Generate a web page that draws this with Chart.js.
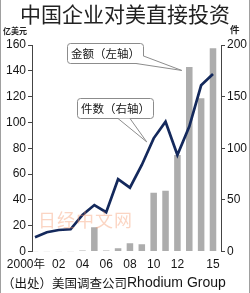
<!DOCTYPE html>
<html>
<head>
<meta charset="utf-8">
<script src="https://cdn.jsdelivr.net/npm/chart.js@4/dist/chart.umd.min.js"></script>
<style>
  html, body { margin: 0; padding: 0; background: #fff; }
  canvas { display: block; }
</style>
</head>
<body>
<canvas id="chart" width="250" height="293"></canvas>
<script>
// data
const years = [2000, 2001, 2002, 2003, 2004, 2005, 2006, 2007, 2008, 2009, 2010, 2011, 2012, 2013, 2014, 2015];
const amountBn = [0.2, 0.2, 0.2, 0.2, 0.8, 18.8, 0.8, 2.5, 6.3, 5.6, 45.6, 47, 74.8, 143, 118.8, 157.5]; // 亿美元, left axis
const dealCount = [13.8, 18.6, 20.8, 21.5, 35.4, 45, 38, 70, 61.8, 83.8, 109.6, 125.7, 93.5, 121, 161, 172]; // 件, right axis
const xTickYears = [2000, 2002, 2004, 2006, 2008, 2010, 2012, 2015];
const xTickLabels = ['2000年', '02', '04', '06', '08', '10', '12', '15'];
const leftTicks = [0, 20, 40, 60, 80, 100, 120, 140, 160];
const rightTicks = [0, 50, 100, 150, 200];

const CJK = '"Noto Sans CJK SC", "Noto Sans", sans-serif';
const NUM = '"Liberation Sans", Arial, sans-serif';
const INK = '#151515';

function callout(ctx, box, tip, base, text) {
  ctx.save();
  ctx.fillStyle = '#fff';
  ctx.strokeStyle = '#8c8c8c';
  ctx.lineWidth = 1;
  ctx.beginPath();
  ctx.roundRect(box.x + 0.5, box.y + 0.5, box.w, box.h, 3);
  ctx.fill();
  ctx.stroke();
  // wedge pointing at the mark
  ctx.beginPath();
  ctx.moveTo(base[0][0], base[0][1]);
  ctx.lineTo(tip[0], tip[1]);
  ctx.lineTo(base[1][0], base[1][1]);
  ctx.closePath();
  ctx.fill();
  ctx.beginPath();
  ctx.moveTo(base[0][0], base[0][1]);
  ctx.lineTo(tip[0], tip[1]);
  ctx.lineTo(base[1][0], base[1][1]);
  ctx.stroke();
  ctx.fillStyle = INK;
  ctx.font = '11.5px ' + CJK;
  ctx.textAlign = 'center';
  ctx.textBaseline = 'middle';
  ctx.fillText(text, box.x + box.w / 2 + 0.5, box.y + box.h / 2 + 1);
  ctx.restore();
}

const decor = {
  id: 'decor',
  afterDatasetsDraw(chart) {
    const { ctx, scales } = chart;
    const x = scales.x, yL = scales.yL, yR = scales.yR;

    // callouts
    const t1 = [x.getPixelForValue(years[13]) - 7.5, yL.getPixelForValue(amountBn[13]) + 3.5];
    callout(ctx, { x: 67, y: 43, w: 76, h: 20 }, t1, [[136, 63.5], [143.5, 56]], '金额（左轴）');
    const t2 = [x.getPixelForValue(years[10]) - 7, yR.getPixelForValue(dealCount[10]) + 3.5];
    callout(ctx, { x: 77, y: 98, w: 76, h: 20 }, t2, [[118, 118.5], [130, 118.5]], '件数（右轴）');
  },
  afterDraw(chart) {
    const { ctx, scales } = chart;
    const x = scales.x;
    ctx.save();

    // title
    ctx.fillStyle = '#222';
    ctx.font = '21px ' + CJK;
    ctx.textAlign = 'center';
    ctx.textBaseline = 'middle';
    ctx.fillText('中国企业对美直接投资', 125, 14);

    // axis units
    ctx.font = 'bold 8px ' + CJK;
    ctx.textAlign = 'left';
    ctx.fillText('亿美元', 3, 31);
    ctx.font = 'bold 9.5px ' + CJK;
    ctx.fillText('件', 230, 29);

    // x tick labels
    ctx.fillStyle = INK;
    xTickYears.forEach((yr, i) => {
      const px = x.getPixelForValue(yr);
      const lab = xTickLabels[i];
      if (lab.endsWith('年')) {
        ctx.textAlign = 'right';
        const num = lab.slice(0, -1);
        ctx.font = '11.5px ' + CJK;
        const w = ctx.measureText('年').width;
        ctx.fillText('年', px + 10, 264);
        ctx.font = '12px ' + NUM;
        ctx.fillText(num, px + 10 - w, 264.5);
      } else {
        ctx.textAlign = 'center';
        ctx.font = '12px ' + NUM;
        ctx.fillText(lab, px, 264.5);
      }
    });

    // source
    ctx.textAlign = 'left';
    ctx.font = '12.5px ' + CJK;
    ctx.fillText('（出处）美国调查公司', 2, 283);
    const w0 = ctx.measureText('（出处）美国调查公司').width;
    ctx.font = '14px "Liberation Sans", Arial, sans-serif';
    ctx.fillText('Rhodium Group', 2 + w0, 283.5);

    // watermark
    ctx.fillStyle = 'rgba(244, 150, 105, 0.4)';
    ctx.font = '18px ' + CJK;
    ctx.textAlign = 'center';
    '日经中文网'.split('').forEach((ch, i) => ctx.fillText(ch, 47 + i * 19, 220));

    // side frame
    ctx.strokeStyle = '#a0a0a0';
    ctx.lineWidth = 1;
    ctx.beginPath();
    ctx.moveTo(0.5, 0); ctx.lineTo(0.5, 293);
    ctx.moveTo(249.5, 0); ctx.lineTo(249.5, 293);
    ctx.stroke();
    ctx.restore();
  }
};

new Chart(document.getElementById('chart'), {
  type: 'bar',
  data: {
    datasets: [{
      type: 'line',
      label: '件数（右轴）',
      data: years.map((yr, i) => ({ x: yr, y: dealCount[i] })),
      yAxisID: 'yR',
      borderColor: '#14295c',
      borderWidth: 2.7,
      pointRadius: 0,
      tension: 0,
      borderJoinStyle: 'miter',
      order: 0
    }, {
      type: 'bar',
      label: '金额（左轴）',
      data: years.map((yr, i) => ({ x: yr, y: amountBn[i] })),
      yAxisID: 'yL',
      backgroundColor: '#adadad',
      barPercentage: 0.55,
      categoryPercentage: 1,
      order: 1
    }]
  },
  options: {
    responsive: false,
    devicePixelRatio: 1,
    animation: false,
    layout: { padding: { top: 45, bottom: 41.5, left: 0, right: 0 } },
    plugins: { legend: { display: false }, tooltip: { enabled: false }, title: { display: false } },
    scales: {
      x: { type: 'linear', offset: false, min: 1999.747, max: 2015.674, display: false },
      yL: {
        position: 'left', min: 0, max: 160,
        afterBuildTicks: s => { s.ticks = leftTicks.map(v => ({ value: v })); },
        afterFit: s => { s.width = 32; },
        ticks: { color: INK, font: { family: NUM, size: 12 }, padding: 2 },
        grid: { drawOnChartArea: false, drawTicks: true, tickLength: 4, color: '#444' },
        border: { color: '#444', width: 1 }
      },
      yR: {
        position: 'right', min: 0, max: 200,
        afterBuildTicks: s => { s.ticks = rightTicks.map(v => ({ value: v })); },
        afterFit: s => { s.width = 29; },
        ticks: { color: INK, font: { family: NUM, size: 12 }, padding: 2 },
        grid: { drawOnChartArea: false, drawTicks: true, tickLength: 4, color: '#444' },
        border: { color: '#444', width: 1 }
      }
    }
  },
  plugins: [decor]
});
</script>
</body>
</html>
